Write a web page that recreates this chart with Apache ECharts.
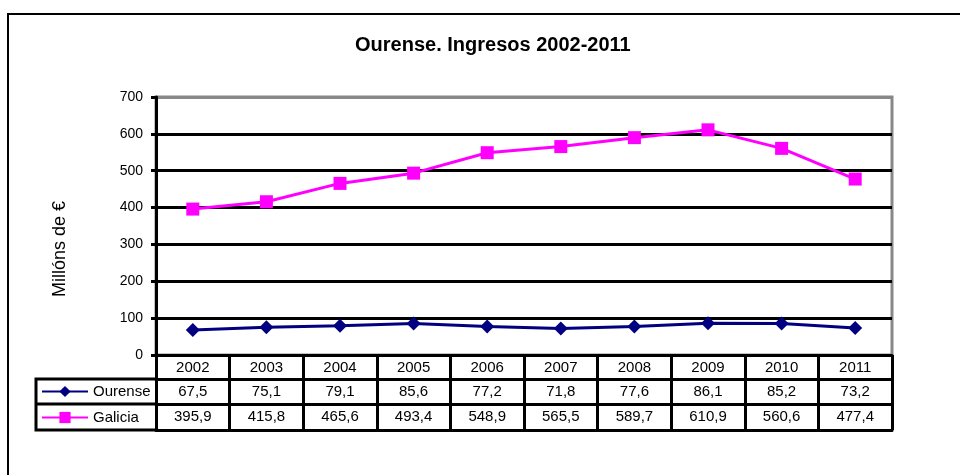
<!DOCTYPE html>
<html>
<head>
<meta charset="utf-8">
<script src="https://cdn.jsdelivr.net/npm/echarts@6/dist/echarts.min.js"></script>
<style>
  html, body { margin: 0; padding: 0; background: #fff; }
  #chart { width: 960px; height: 475px; }
</style>
</head>
<body>
<div id="chart"></div>
<script>
// datos
const years = ['2002', '2003', '2004', '2005', '2006', '2007', '2008', '2009', '2010', '2011'];
const ourense = [67.5, 75.1, 79.1, 85.6, 77.2, 71.8, 77.6, 86.1, 85.2, 73.2];
const galicia = [395.9, 415.8, 465.6, 493.4, 548.9, 565.5, 589.7, 610.9, 560.6, 477.4];
const yTicks = [0, 100, 200, 300, 400, 500, 600, 700];

const FONT = 'Liberation Sans, Arial, sans-serif';
const fmt = v => v.toFixed(1).replace('.', ',');

// eixo extra para cada fila da táboa
function tableAxis(offset, values) {
  return {
    type: 'category',
    data: years,
    position: 'bottom',
    offset: offset,
    axisLine: { show: true, lineStyle: { color: '#000', width: 3 } },
    axisTick: { show: false },
    splitLine: { show: false },
    axisLabel: {
      show: !!values,
      margin: 5,
      color: '#000',
      fontFamily: FONT,
      fontSize: 15,
      formatter: (v, i) => values ? fmt(values[i]) : ''
    }
  };
}

let myChart = echarts.init(document.getElementById('chart'));
let option = {
  animation: false,
  backgroundColor: '#fff',
  title: {
    text: 'Ourense. Ingresos 2002-2011',
    left: 350,
    top: 30,
    textStyle: { fontFamily: FONT, fontSize: 20, fontWeight: 'bold', color: '#000' }
  },
  legend: {
    orient: 'vertical',
    left: 36,
    top: 379,
    itemWidth: 46,
    itemHeight: 14,
    itemGap: 11,
    textStyle: { fontFamily: FONT, fontSize: 15, color: '#000' },
    data: ['Ourense', 'Galicia']
  },
  grid: {
    left: 156,
    right: 68,
    top: 97,
    bottom: 120,
    show: true,
    borderColor: '#888',
    borderWidth: 3
  },
  xAxis: [
    {
      type: 'category',
      data: years,
      position: 'bottom',
      axisLine: { show: true, lineStyle: { color: '#000', width: 3 } },
      axisTick: { show: true, interval: 0, length: 75, lineStyle: { color: '#000', width: 3 } },
      splitLine: { show: false },
      axisLabel: { margin: 5, color: '#000', fontFamily: FONT, fontSize: 15 }
    },
    tableAxis(24, ourense),
    tableAxis(49, galicia),
    tableAxis(75, null)
  ],
  yAxis: {
    type: 'value',
    min: 0,
    max: 700,
    interval: 100,
    axisLine: { show: true, lineStyle: { color: '#000', width: 3 } },
    axisTick: { show: true, length: 5, lineStyle: { color: '#000', width: 3 } },
    axisLabel: {
      margin: 13,
      color: '#000',
      fontFamily: FONT,
      fontSize: 14,
      formatter: v => yTicks.includes(v) ? String(v) : ''
    },
    splitLine: {
      show: true,
      lineStyle: { color: ['#000', '#000', '#000', '#000', '#000', '#000', '#000', '#888'], width: 3 }
    }
  },
  graphic: [
    {
      type: 'rect',
      shape: { x: 8, y: 14, width: 1000, height: 500 },
      style: { fill: 'none', stroke: '#000', lineWidth: 2 },
      z: -1
    },
    {
      type: 'text',
      x: 60,
      y: 249,
      rotation: Math.PI / 2,
      style: {
        text: 'Millóns de €',
        fontFamily: FONT,
        fontSize: 18,
        fill: '#000',
        textAlign: 'center',
        textVerticalAlign: 'middle'
      }
    },
    {
      type: 'polyline',
      shape: { points: [[157, 379], [36, 379], [36, 430], [157, 430]] },
      style: { fill: 'none', stroke: '#000', lineWidth: 3 }
    },
    {
      type: 'line',
      shape: { x1: 36, y1: 404, x2: 157, y2: 404 },
      style: { stroke: '#000', lineWidth: 3 }
    }
  ],
  series: [
    {
      name: 'Ourense',
      type: 'line',
      data: ourense,
      symbol: 'diamond',
      symbolSize: 14,
      itemStyle: { color: '#000080' },
      lineStyle: { color: '#000080', width: 3 },
      z: 3
    },
    {
      name: 'Galicia',
      type: 'line',
      data: galicia,
      symbol: 'rect',
      symbolSize: 13,
      itemStyle: { color: '#ff00ff' },
      lineStyle: { color: '#ff00ff', width: 3 },
      z: 3
    }
  ]
};
option && myChart.setOption(option);
</script>
</body>
</html>
